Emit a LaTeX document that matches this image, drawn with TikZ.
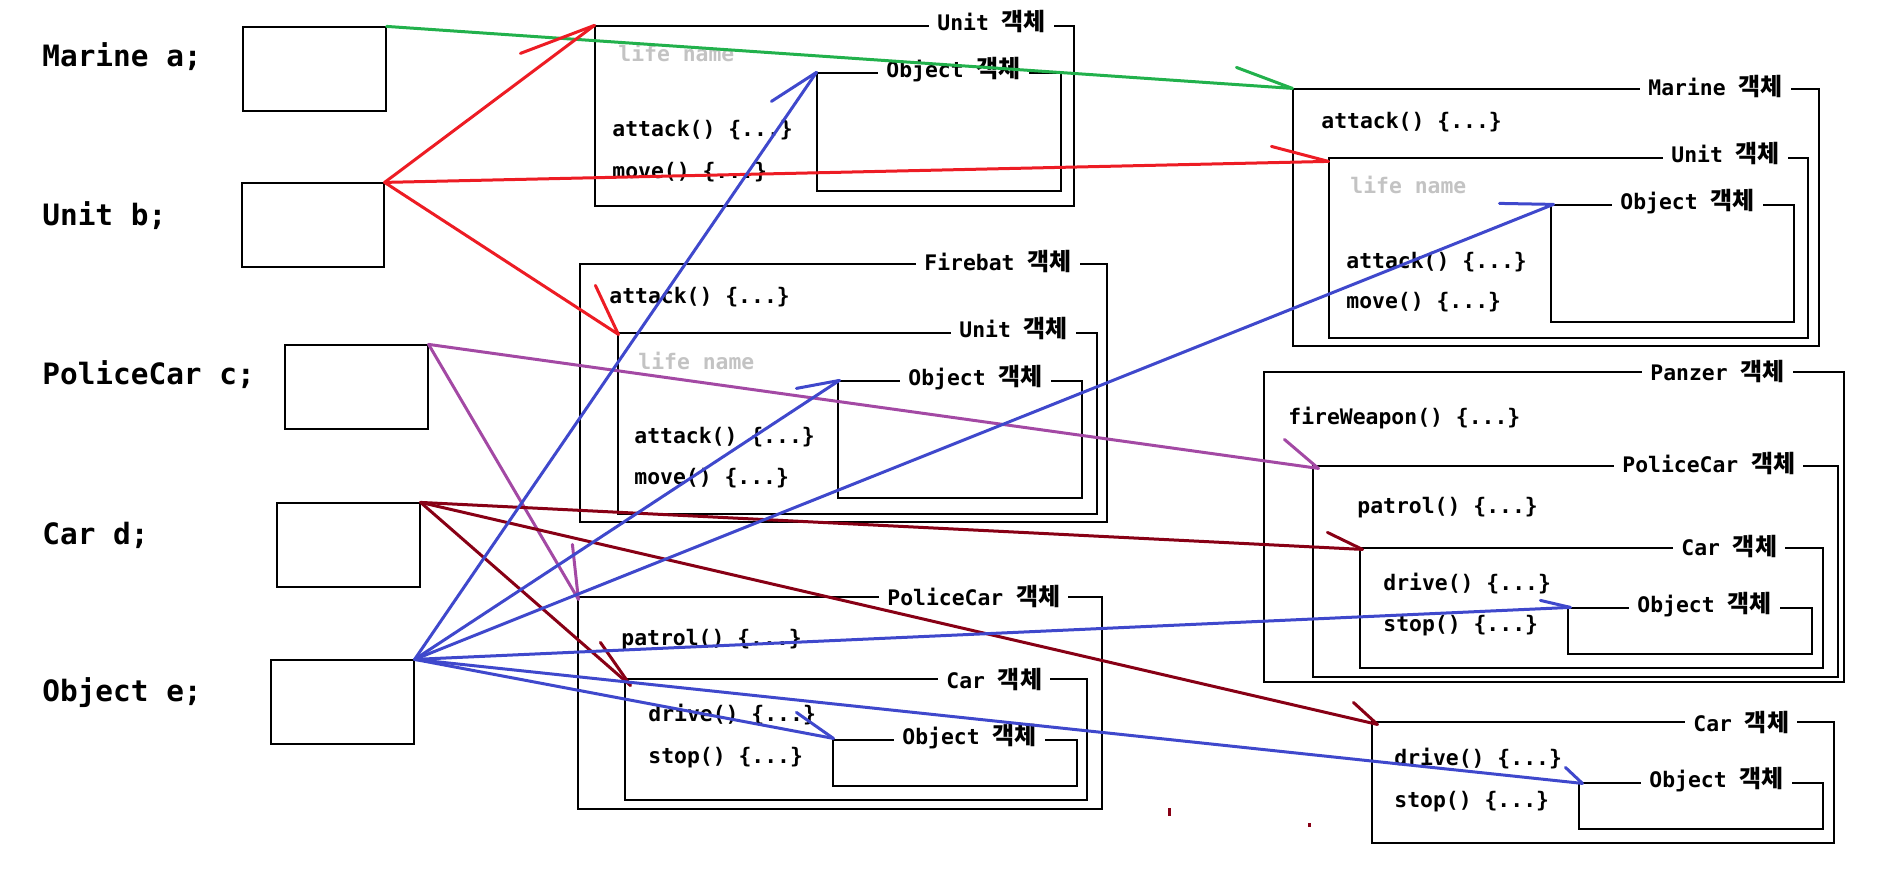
\documentclass[tikz,border=0pt]{standalone}
\usepackage{fontspec}
\setmonofont{DejaVu Sans Mono}
\newfontfamily\krfont{Noto Sans CJK KR}
\usetikzlibrary{fit}
\definecolor{pRed}{HTML}{ED1C24}
\definecolor{pGreen}{HTML}{22B14C}
\definecolor{pBlue}{HTML}{3F48CC}
\definecolor{pPurple}{HTML}{A349A4}
\definecolor{pDark}{HTML}{880015}
\definecolor{lifegray}{HTML}{C3C3C3}
\newcommand{\objlbl}[1]{#1 {\krfont\bfseries\fontsize{12}{12}\selectfont 객체}}
\begin{document}
\begin{tikzpicture}[x=0.5pt,y=-0.5pt,
  box/.style={draw=black,line width=0.6pt,inner sep=0pt},
  code/.style={anchor=west,inner sep=0pt,font=\ttfamily\bfseries\fontsize{10.7}{12}\selectfont},
  life/.style={code,text=lifegray},
  decl/.style={anchor=west,inner sep=0pt,font=\ttfamily\bfseries\fontsize{14.7}{17}\selectfont},
  lbl/.style={anchor=west,fill=white,inner xsep=4pt,inner ysep=1pt,font=\ttfamily\bfseries\fontsize{10.7}{12}\selectfont},
  ref/.style={line width=1.5pt,line cap=round},
]
\useasboundingbox (0,0) rectangle (1898,868);

% declarations
\node[decl] (la) at (42,57) {Marine a;};
\node[decl] (lb) at (42,216) {Unit b;};
\node[decl] (lc) at (42,375) {PoliceCar c;};
\node[decl] (ld) at (42,535) {Car d;};
\node[decl] (le) at (42,693) {Object e;};

% reference variable boxes
\node[box,fit={(243,27) (386,111)}] (va) {};
\node[box,fit={(242,183) (384,267)}] (vb) {};
\node[box,fit={(285,345) (428,429)}] (vc) {};
\node[box,fit={(277,503) (420,587)}] (vd) {};
\node[box,fit={(271,660) (414,744)}] (ve) {};

% group 1 : Unit object
\node[box,fit={(595,26) (1074,206)}] (U1) {};
\node[lbl] (U1l) at (929,22) {\objlbl{Unit}};
\node[life] (U1a) at (618,53) {life name};
\node[code] (U1b) at (612,130) {attack() \{...\}};
\node[code] (U1c) at (612,172) {move() \{...\}};
\node[box,fit={(817,73) (1061,191)}] (O1) {};
\node[lbl] (O1l) at (878,70) {\objlbl{Object}};

% group 2 : Marine object
\node[box,fit={(1293,89) (1819,346)}] (M2) {};
\node[lbl] (M2l) at (1640,87) {\objlbl{Marine}};
\node[code] (M2a) at (1321,122) {attack() \{...\}};
\node[box,fit={(1329,158) (1808,338)}] (U2) {};
\node[lbl] (U2l) at (1663,154) {\objlbl{Unit}};
\node[life] (U2a) at (1350,185) {life name};
\node[code] (U2b) at (1346,262) {attack() \{...\}};
\node[code] (U2c) at (1346,302) {move() \{...\}};
\node[box,fit={(1551,205) (1794,322)}] (O2) {};
\node[lbl] (O2l) at (1612,202) {\objlbl{Object}};

% group 3 : Firebat object
\node[box,fit={(580,264) (1107,522)}] (F3) {};
\node[lbl] (F3l) at (916,262) {\objlbl{Firebat}};
\node[code] (F3a) at (609,297) {attack() \{...\}};
\node[box,fit={(618,333) (1097,514)}] (U3) {};
\node[lbl] (U3l) at (951,329) {\objlbl{Unit}};
\node[life] (U3a) at (638,361) {life name};
\node[code] (U3b) at (634,437) {attack() \{...\}};
\node[code] (U3c) at (634,478) {move() \{...\}};
\node[box,fit={(838,381) (1082,498)}] (O3) {};
\node[lbl] (O3l) at (900,378) {\objlbl{Object}};

% group 4 : Panzer object
\node[box,fit={(1264,372) (1844,682)}] (P4) {};
\node[lbl] (P4l) at (1642,372) {\objlbl{Panzer}};
\node[code] (P4a) at (1288,418) {fireWeapon() \{...\}};
\node[box,fit={(1313,466) (1838,677)}] (PC4) {};
\node[lbl] (PC4l) at (1614,464) {\objlbl{PoliceCar}};
\node[code] (PC4a) at (1357,508) {patrol() \{...\}};
\node[box,fit={(1360,548) (1823,668)}] (C4) {};
\node[lbl] (C4l) at (1673,547) {\objlbl{Car}};
\node[code] (C4a) at (1383,584) {drive() \{...\}};
\node[code] (C4b) at (1383,626) {stop() \{...\}};
\node[box,fit={(1568,608) (1812,654)}] (O4) {};
\node[lbl] (O4l) at (1629,605) {\objlbl{Object}};

% group 5 : PoliceCar object
\node[box,fit={(578,597) (1102,809)}] (PC5) {};
\node[lbl] (PC5l) at (879,596) {\objlbl{PoliceCar}};
\node[code] (PC5a) at (621,640) {patrol() \{...\}};
\node[box,fit={(625,679) (1087,800)}] (C5) {};
\node[lbl] (C5l) at (938,679) {\objlbl{Car}};
\node[code] (C5a) at (648,715) {drive() \{...\}};
\node[code] (C5b) at (648,758) {stop() \{...\}};
\node[box,fit={(833,740) (1077,786)}] (O5) {};
\node[lbl] (O5l) at (894,737) {\objlbl{Object}};

% group 6 : Car object
\node[box,fit={(1372,722) (1834,843)}] (C6) {};
\node[lbl] (C6l) at (1685,722) {\objlbl{Car}};
\node[code] (C6a) at (1394,759) {drive() \{...\}};
\node[code] (C6b) at (1394,802) {stop() \{...\}};
\node[box,fit={(1579,783) (1823,829)}] (O6) {};
\node[lbl] (O6l) at (1641,780) {\objlbl{Object}};

% references: Marine a (green)
\draw[ref,pGreen] (va.north east) -- (M2.north west);
\draw[ref,pGreen] (M2.north west) -- ++(-56,-21);

% Unit b (red)
\draw[ref,pRed] (vb.north east) -- (U1.north west);
\draw[ref,pRed] (U1.north west) -- ++(-74,28);
\draw[ref,pRed] (vb.north east) -- ([shift={(0,4)}]U2.north west);
\draw[ref,pRed] ([shift={(0,4)}]U2.north west) -- ++(-57,-15);
\draw[ref,pRed] (vb.north east) -- ([shift={(1,2)}]U3.north west);
\draw[ref,pRed] ([shift={(1,2)}]U3.north west) -- ++(-23,-49);

% PoliceCar c (purple)
\draw[ref,pPurple] (vc.north east) -- ([shift={(6,3)}]PC4.north west);
\draw[ref,pPurple] ([shift={(6,3)}]PC4.north west) -- ++(-34,-29);
\draw[ref,pPurple] (vc.north east) -- ([shift={(1,3)}]PC5.north west);
\draw[ref,pPurple] ([shift={(1,3)}]PC5.north west) -- ++(-6,-55);

% Car d (dark red)
\draw[ref,pDark] (vd.north east) -- ([shift={(3,2)}]C4.north west);
\draw[ref,pDark] ([shift={(3,2)}]C4.north west) -- ++(-35,-17);
\draw[ref,pDark] (vd.north east) -- ([shift={(6,7)}]C5.north west);
\draw[ref,pDark] ([shift={(6,7)}]C5.north west) -- ++(-30,-43);
\draw[ref,pDark] (vd.north east) -- ([shift={(6,3)}]C6.north west);
\draw[ref,pDark] ([shift={(6,3)}]C6.north west) -- ++(-24,-22);

% Object e (blue)
\draw[ref,pBlue] (ve.north east) -- (O1.north west);
\draw[ref,pBlue] (O1.north west) -- ++(-45,29);
\draw[ref,pBlue] (ve.north east) -- ([shift={(2,0)}]O3.north west);
\draw[ref,pBlue] ([shift={(2,0)}]O3.north west) -- ++(-43,8);
\draw[ref,pBlue] (ve.north east) -- ([shift={(3,0)}]O2.north west);
\draw[ref,pBlue] ([shift={(3,0)}]O2.north west) -- ++(-54,-1);
\draw[ref,pBlue] (ve.north east) -- ([shift={(3,0)}]O4.north west);
\draw[ref,pBlue] ([shift={(3,0)}]O4.north west) -- ++(-30,-7);
\draw[ref,pBlue] (ve.north east) -- ([shift={(1,-1)}]O5.north west);
\draw[ref,pBlue] ([shift={(1,-1)}]O5.north west) -- ++(-37,-26);
\draw[ref,pBlue] (ve.north east) -- ([shift={(4,1)}]O6.north west);
\draw[ref,pBlue] ([shift={(4,1)}]O6.north west) -- ++(-17,-16);

% stray marks
\fill[pDark] (1168,808) rectangle (1171,816);
\fill[pDark] (1308,823) rectangle (1311,827);
\end{tikzpicture}
\end{document}
